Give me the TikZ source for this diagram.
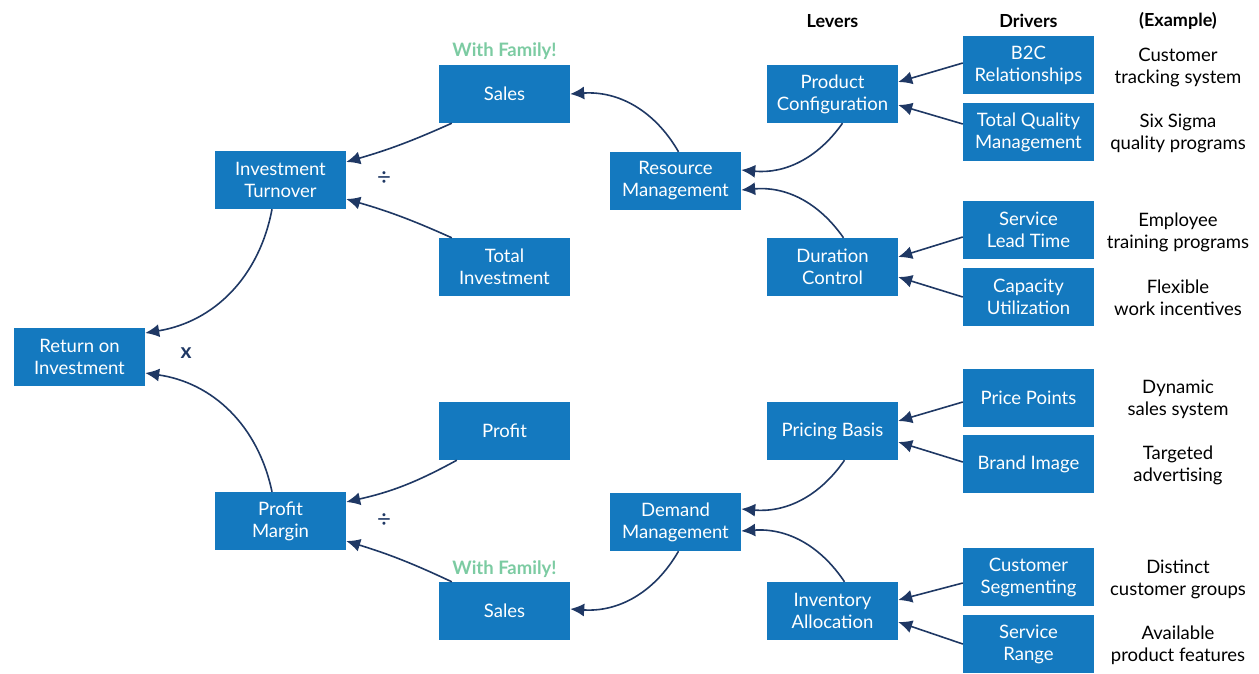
\documentclass[tikz,border=0pt]{standalone}
\usepackage{fontspec}
\setmainfont{Lato}
\usepackage{xcolor}
\usepackage{tikz}
\usetikzlibrary{positioning, arrows.meta}

\definecolor{boxblue}{HTML}{1479BF}
\definecolor{navy}{HTML}{1F3864}
\definecolor{famgreen}{HTML}{7CCBA2}

\tikzset{
    box/.style = {fill = boxblue, text = white, minimum width = 131pt, minimum height = 58pt,
                  inner sep = 0pt, align = center, font = \fontsize{18.5}{22}\selectfont},
    link/.style = {draw = navy, line width = 1.6pt, -{Latex[length = 14pt, width = 13pt]}},
    head/.style = {font = \fontsize{18}{22}\selectfont\bfseries},
    example/.style = {align = center, font = \fontsize{18.5}{22}\selectfont},
    family/.style = {text = famgreen, font = \fontsize{18.5}{22}\selectfont\bfseries},
    sign/.style = {text = navy, font = \fontsize{24}{24}\selectfont}
}

\begin{document}
\begin{tikzpicture}[x = 1pt, y = -1pt]
    \useasboundingbox (0, 0) rectangle (1259, 673);

    \node [box] (roi) at (79.5, 357) {Return on\\Investment};
    \node [box] (it) at (280.5, 180) {Investment\\Turnover};
    \node [box] (pm) at (280.5, 521) {Profit\\Margin};

    \node [box] (sales1) at (504.5, 94) {Sales};
    \node [box] (ti) at (504.5, 267) {Total\\Investment};
    \node [box] (profit) at (504.5, 431) {Profit};
    \node [box] (sales2) at (504.5, 611) {Sales};

    \node [box] (rm) at (675.5, 181) {Resource\\Management};
    \node [box] (dm) at (675.5, 522) {Demand\\Management};

    \node [box] (pc) at (832.5, 94) {Product\\Configuration};
    \node [box] (dc) at (832.5, 267) {Duration\\Control};
    \node [box] (pb) at (832.5, 431) {Pricing Basis};
    \node [box] (ia) at (832.5, 611) {Inventory\\Allocation};

    \node [box] (b2c) at (1028.5, 65) {B2C\\Relationships};
    \node [box] (tqm) at (1028.5, 132) {Total Quality\\Management};
    \node [box] (slt) at (1028.5, 230) {Service\\Lead Time};
    \node [box] (cu) at (1028.5, 297) {Capacity\\Utilization};
    \node [box] (pp) at (1028.5, 398) {Price Points};
    \node [box] (bi) at (1028.5, 464) {Brand Image};
    \node [box] (cs) at (1028.5, 577) {Customer\\Segmenting};
    \node [box] (sr) at (1028.5, 644) {Service\\Range};

    \node [head] (levers) at (832.5, 21) {Levers};
    \node [head] (drivers) at (1028.5, 21) {Drivers};
    \node [head] (examples) at (1178, 21) {(Example)};

    \node [example] (ex1) at (1178, 67) {Customer\\tracking system};
    \node [example] (ex2) at (1178, 133) {Six Sigma\\quality programs};
    \node [example] (ex3) at (1178, 232) {Employee\\training programs};
    \node [example] (ex4) at (1178, 298) {Flexible\\work incentives};
    \node [example] (ex5) at (1178, 399) {Dynamic\\sales system};
    \node [example] (ex6) at (1178, 465) {Targeted\\advertising};
    \node [example] (ex7) at (1178, 579) {Distinct\\customer groups};
    \node [example] (ex8) at (1178, 645) {Available\\product features};

    \node [family] (fam1) at (504.5, 51) {With Family!};
    \node [family] (fam2) at (504.5, 569) {With Family!};

    \node [sign, font = \fontsize{21}{22}\selectfont\bfseries] (times) at (186, 353) {x};
    \node [sign] (div1) at (384, 179) {÷};
    \node [sign] (div2) at (384, 521) {÷};

    % first level
    \draw [link, bend left = 35] ([xshift = -8.5pt]it.south) to ([yshift = 24pt]roi.east);
    \draw [link, bend right = 35] ([xshift = -8.5pt]pm.north) to ([yshift = -16pt]roi.east);

    % second level
    \draw [link, bend left = 4] ([xshift = 13pt]sales1.south west) to ([yshift = 18pt]it.east);
    \draw [link, bend right = 4] ([xshift = 13pt]ti.north west) to ([yshift = -19pt]it.east);
    \draw [link, bend left = 8] ([xshift = 18pt]profit.south west) to ([yshift = 19pt]pm.east);
    \draw [link, bend right = 4] ([xshift = 13pt]sales2.north west) to ([yshift = -20pt]pm.east);

    % levers
    \draw [link, bend right = 32] ([xshift = 3pt]rm.north) to (sales1.east);
    \draw [link, bend left = 32] ([xshift = 3pt]dm.south) to ([yshift = 2pt]sales2.east);
    \draw [link, bend left = 30] ([xshift = 10pt]pc.south) to ([yshift = 11pt]rm.east);
    \draw [link, bend right = 30] ([xshift = 11pt]dc.north) to ([yshift = -9pt]rm.east);
    \draw [link, bend left = 30] ([xshift = 12pt]pb.south) to ([yshift = 13pt]dm.east);
    \draw [link, bend right = 30] ([xshift = 12pt]ia.north) to ([yshift = -9pt]dm.east);

    % drivers
    \draw [link] ([yshift = 2pt]b2c.west) -- ([yshift = 12pt]pc.east);
    \draw [link] ([yshift = 8pt]tqm.west) -- ([yshift = -11pt]pc.east);
    \draw [link] ([yshift = -7pt]slt.west) -- ([yshift = 10pt]dc.east);
    \draw [link] (cu.west) -- ([yshift = -10pt]dc.east);
    \draw [link] ([yshift = -4pt]pp.west) -- ([yshift = 10pt]pb.east);
    \draw [link] ([yshift = 2pt]bi.west) -- ([yshift = -11pt]pb.east);
    \draw [link] ([yshift = -6pt]cs.west) -- ([yshift = 11pt]ia.east);
    \draw [link] (sr.west) -- ([yshift = -11pt]ia.east);
\end{tikzpicture}
\end{document}
